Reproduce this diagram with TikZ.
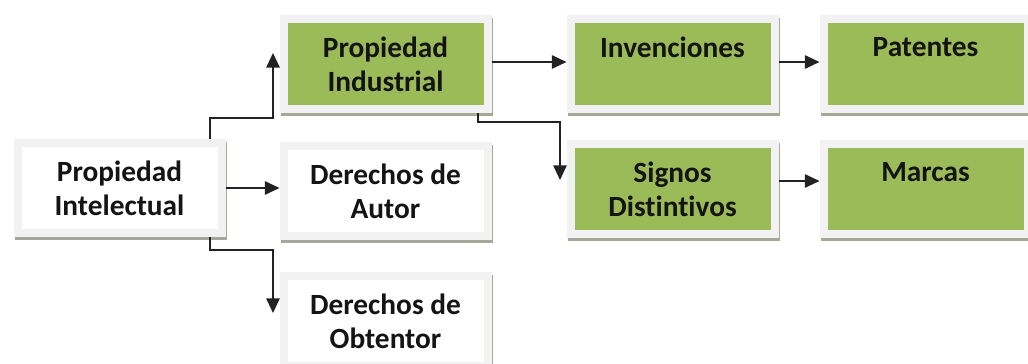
\documentclass[tikz,border=0pt]{standalone}
\usepackage{fontspec}
\setmainfont{Carlito}[RawFeature={-liga;-calt;-dlig;-clig}]
\usetikzlibrary{arrows.meta}
\definecolor{boxgreen}{HTML}{9BBB59}
\definecolor{framegray}{HTML}{F2F2F2}
\definecolor{shadowgray}{HTML}{A4A896}
\definecolor{linegray}{HTML}{222222}
\definecolor{txt}{HTML}{141414}
\begin{document}
\begin{tikzpicture}[x=0.75pt,y=-0.75pt,
  box/.style={draw=framegray, line width=6pt, minimum width=153pt, minimum height=67.5pt,
    inner sep=0pt, align=center, text=txt,
    font=\bfseries\fontsize{22}{25.5}\selectfont,
    preaction={draw=shadowgray, line width=6pt, transform canvas={shift={(1.3pt,-2pt)}}}},
  greenbox/.style={box, fill=boxgreen},
  whitebox/.style={box, fill=white},
  conn/.style={draw=linegray, line width=1.4pt, -{Triangle[length=11pt,width=10pt]}}]
\useasboundingbox (0,0) rectangle (1028,364);
\fill[white] (0,0) rectangle (1028,364);
\clip (0,0) rectangle (1028,364);

\node[whitebox] (pintel) at (119.5,188) {Propiedad\\Intelectual};
\node[greenbox] (pind) at (385.5,64) {Propiedad\\Industrial};
\node[whitebox] (dautor) at (385.5,191) {Derechos de\\Autor};
\node[whitebox] (dobt) at (385.5,321) {Derechos de\\Obtentor};
\node[greenbox] (inv) at (672.5,64) {Invenciones\\\mbox{}};
\node[greenbox] (pat) at (925.5,64) {Patentes\\\mbox{}};
\node[greenbox] (signos) at (672.5,189) {Signos\\Distintivos};
\node[greenbox] (marcas) at (925.5,189) {Marcas\\\mbox{}};

\coordinate (x210) at (210,0);
\coordinate (k1) at (273,118);
\coordinate (t1) at (273,53);
\coordinate (k3) at (273,250);
\coordinate (t3) at (273,313);
\coordinate (x478) at (478,0);
\coordinate (k5) at (560,122);
\coordinate (t5) at (560,180);

\draw[conn] (pintel.north -| x210) |- (k1) -- (t1);
\draw[conn] (pintel.east) -- (pintel.east -| dautor.west);
\draw[conn] (pintel.south -| x210) |- (k3) -- (t3);
\draw[conn] ([yshift=1.5pt]pind.east) -- ([yshift=1.5pt]inv.west);
\draw[conn] (pind.south -| x478) |- (k5) -- (t5);
\draw[conn] ([yshift=1.5pt]inv.east) -- ([yshift=1.5pt]pat.west);
\draw[conn] ([yshift=6pt]signos.east) -- ([yshift=6pt]marcas.west);
\end{tikzpicture}
\end{document}
